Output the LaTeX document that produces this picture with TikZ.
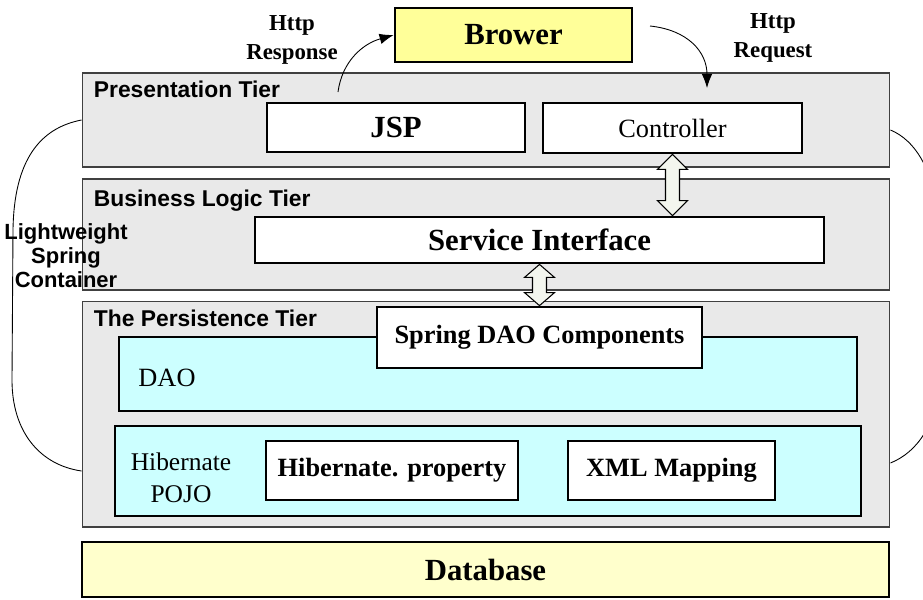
\documentclass[tikz,border=0pt]{standalone}
\usepackage{fontspec}
\setmainfont{Liberation Serif}
\setsansfont{Liberation Sans}
\usetikzlibrary{arrows.meta,calc}
\definecolor{tiergray}{RGB}{233,233,233}
\definecolor{daocyan}{RGB}{204,255,255}
\definecolor{browyellow}{RGB}{255,255,153}
\definecolor{dbyellow}{RGB}{255,255,204}
\definecolor{fatfill}{RGB}{243,246,238}

\begin{document}
\begin{tikzpicture}[x=0.02cm, y=-0.02cm,
	tier/.style={draw=black!75, fill=tiergray, line width=0.6pt, inner sep=0pt},
	box/.style={draw, line width=1.6pt, fill=white, inner sep=0pt},
	fat/.style={draw, line width=0.6pt, fill=fatfill},
	bigtxt/.style={font=\fontsize{17.5}{20}\selectfont\bfseries},
	midtxt/.style={font=\fontsize{15}{18}\selectfont\bfseries},
	plaintxt/.style={font=\fontsize{15}{18}\selectfont},
	tiertxt/.style={font=\fontsize{13}{15}\selectfont\sffamily\bfseries, anchor=base west, inner sep=0pt},
	httptxt/.style={font=\fontsize{13}{16}\selectfont\bfseries, align=center}]
		\useasboundingbox (0,0) rectangle (923,599);
		% the three tiers
		\node[tier, minimum width=16.16cm, minimum height=1.88cm] (pres) at (486,120) {};
		\node[tier, minimum width=16.16cm, minimum height=2.22cm] (bus) at (486,234.5) {};
		\node[tier, minimum width=16.16cm, minimum height=4.52cm] (pers) at (486,414) {};
		\node[tiertxt] (prestxt) at ($(pres.north west)+(12,25)$) {Presentation Tier};
		\node[tiertxt] (bustxt) at ($(bus.north west)+(12,28)$) {Business Logic Tier};
		\node[tiertxt] (perstxt) at ($(pers.north west)+(12,26)$) {The Persistence Tier};

		\node[box, fill=browyellow, bigtxt, minimum width=4.74cm, minimum height=1.08cm] (brower) at (513.5,35) {Brower};
		\node[box, bigtxt, minimum width=5.16cm, minimum height=0.98cm] (jsp) at (396,127.5) {JSP};
		\node[box, plaintxt, minimum width=5.18cm, minimum height=1.0cm] (ctrl) at (672.5,128) {Controller};
		\node[box, bigtxt, minimum width=11.38cm, minimum height=0.92cm] (svc) at (539.5,240) {Service Interface};

		\node[box, fill=daocyan, minimum width=14.76cm, minimum height=1.48cm] (dao) at (488,374) {};
		\node[plaintxt] (daotxt) at (167,378) {DAO};
		\node[box, midtxt, minimum width=6.5cm, minimum height=1.22cm] (sdao) at (539.5,337.5) {Spring DAO Components};
		\node[box, fill=daocyan, minimum width=14.92cm, minimum height=1.8cm] (hib) at (488,471) {};
		\node[font=\fontsize{14.5}{18}\selectfont, align=center] (hibtxt) at (181,478) {Hibernate\\POJO};
		\node[box, midtxt, minimum width=5.04cm, minimum height=1.18cm] (hprop) at (392,470.5) {Hibernate. property};
		\node[box, midtxt, minimum width=4.14cm, minimum height=1.18cm] (xml) at (671.5,470.5) {XML Mapping};

		\node[box, fill=dbyellow, bigtxt, minimum width=16.14cm, minimum height=1.1cm] (db) at (485.5,569.5) {Database};

		% request / response
		\coordinate (respfrom) at (338,92);
		\coordinate (reqfrom) at (650,26);
		\coordinate (reqto) at (707,88);
		\draw[line width=0.5pt, -{Latex[length=8pt,width=6pt]}] (respfrom) .. controls (342,62) and (362,44) .. (brower.west);
		\draw[line width=0.5pt, -{Latex[length=8pt,width=6pt]}] (reqfrom) .. controls (688,30) and (707,52) .. (reqto);
		\node[httptxt] (resptxt) at (292,40) {Http\\Response};
		\node[httptxt] (reqtxt) at (773,38) {Http\\Request};

		% fat double arrows
		\coordinate (a1) at (ctrl.south |- svc.north);
		\draw[fat] (ctrl.south) -- ++(15,15) -- ++(-8,0) -- ($(a1)+(7,-15)$) -- ++(8,0) -- (a1) -- ++(-15,-15) -- ++(8,0) -- ($(ctrl.south)+(-7,15)$) -- ++(-8,0) -- cycle;
		\coordinate (a2) at (svc.south |- sdao.north);
		\draw[fat] (svc.south) -- ++(15,13) -- ++(-8,0) -- ($(a2)+(7,-13)$) -- ++(8,0) -- (a2) -- ++(-15,-13) -- ++(8,0) -- ($(svc.south)+(-7,13)$) -- ++(-8,0) -- cycle;

		% spring container
		\draw[line width=0.5pt] (pres.west) .. controls (40,128) and (14,160) .. (13,230) -- (12,380) .. controls (12,432) and (40,465) .. (pers.west |- hib.center);
		\begin{scope}
			\clip (0,0) rectangle (923,599);
			\draw[line width=0.5pt] ($(pres.east)+(0,10)$) .. controls (915,140) and (937,172) .. (938,230) -- (938,380) .. controls (938,422) and (918,452) .. ($(pers.east |- hib.center)+(0,-8)$);
		\end{scope}
		\node[font=\fontsize{12.5}{13.6}\selectfont\sffamily\bfseries, align=center] (springtxt) at (66,256) {Lightweight\\Spring\\Container};
		%	\node at (66,300) {};
\end{tikzpicture}
\end{document}
